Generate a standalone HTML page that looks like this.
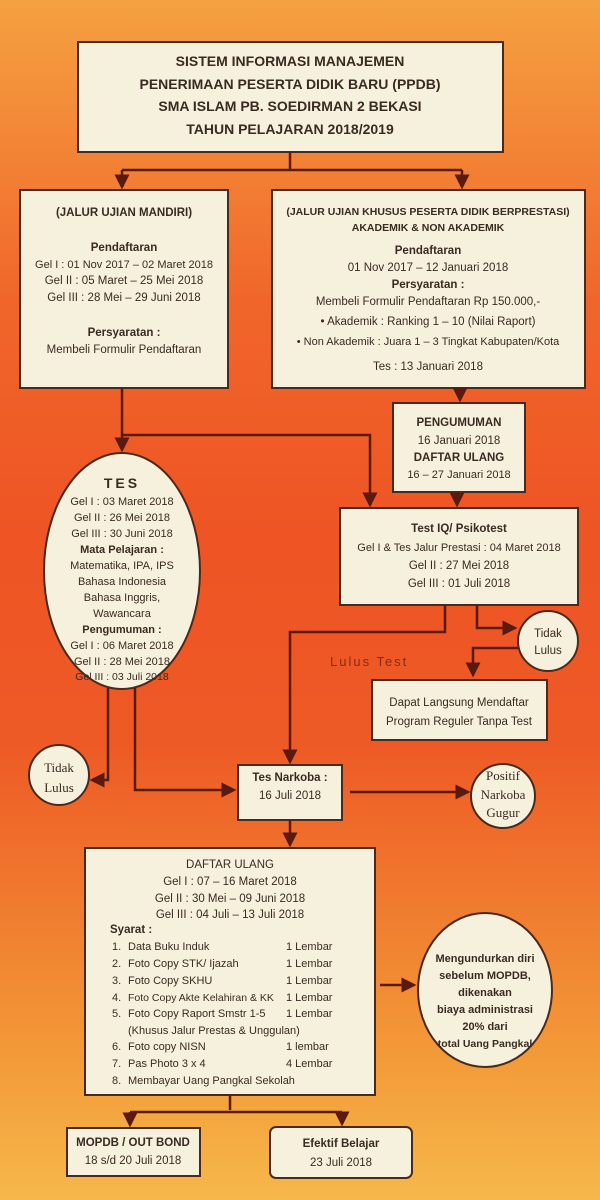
<!DOCTYPE html>
<html><head><meta charset="utf-8"><style>
html,body{margin:0;padding:0;width:600px;height:1200px;overflow:hidden}
body{background:linear-gradient(180deg,#f4a140 0%,#f38a38 10%,#f0662a 25%,#ee5424 45%,#ee5a26 62%,#f07a2e 75%,#f39a38 88%,#f6b84a 100%)}
svg{position:absolute;left:0;top:0}
text{font-family:"Liberation Sans Narrow","Liberation Sans",sans-serif;font-size:11.5px;fill:#3a2a22}
.b{font-weight:bold}
.m{font-size:11px}
.s{font-family:"Liberation Serif",serif;font-size:13px}
</style></head><body>
<svg width="600" height="1200" viewBox="0 0 600 1200">
<defs><marker id="a" markerWidth="6" markerHeight="6" refX="5" refY="3" orient="auto"><path d="M0,0 L6,3 L0,6z" fill="#5a1a10"/></marker></defs>
<g fill="#f6f1dc" stroke="#4a2a1e" stroke-width="2">
<rect x="78" y="42" width="425" height="110"/>
<rect x="20" y="190" width="208" height="198"/>
<rect x="272" y="190" width="313" height="198"/>
<rect x="393" y="403" width="132" height="89"/>
<rect x="340" y="508" width="238" height="97"/>
<ellipse cx="122" cy="571" rx="78" ry="118"/>
<circle cx="548" cy="641" r="30"/>
<rect x="372" y="680" width="175" height="60"/>
<circle cx="59" cy="775" r="30"/>
<rect x="238" y="765" width="104" height="55"/>
<circle cx="503" cy="796" r="32"/>
<rect x="85" y="848" width="290" height="247"/>
<ellipse cx="485" cy="990" rx="67" ry="77"/>
<rect x="67" y="1128" width="133" height="48"/>
<rect x="270" y="1127" width="142" height="51" rx="6"/>
</g>
<g fill="none" stroke="#5a1a10" stroke-width="2.5">
<path d="M290 152V170M122 170H462"/>
<path d="M122 170V187" marker-end="url(#a)"/><path d="M462 170V187" marker-end="url(#a)"/>
<path d="M122 388V450" marker-end="url(#a)"/>
<path d="M122 435H370V505" marker-end="url(#a)"/>
<path d="M460 388V400" marker-end="url(#a)"/>
<path d="M457 492V505" marker-end="url(#a)"/>
<path d="M445 605V632H290V762" marker-end="url(#a)"/>
<path d="M477 605V628H515" marker-end="url(#a)"/>
<path d="M518 648H473V675" marker-end="url(#a)"/>
<path d="M108 688V780H92" marker-end="url(#a)"/>
<path d="M135 688V790H234" marker-end="url(#a)"/>
<path d="M350 792H468" marker-end="url(#a)"/>
<path d="M290 820V845" marker-end="url(#a)"/>
<path d="M380 985H414" marker-end="url(#a)"/>
<path d="M230 1095V1110M130 1112H342"/>
<path d="M130 1112V1125" marker-end="url(#a)"/><path d="M342 1112V1124" marker-end="url(#a)"/>
</g>
<g text-anchor="middle">
<text class="b" x="290" y="66" style="font-size:14px">SISTEM INFORMASI MANAJEMEN</text>
<text class="b" x="290" y="89" style="font-size:14px">PENERIMAAN PESERTA DIDIK BARU (PPDB)</text>
<text class="b" x="290" y="111" style="font-size:14px">SMA ISLAM PB. SOEDIRMAN 2 BEKASI</text>
<text class="b" x="290" y="134" style="font-size:14px">TAHUN PELAJARAN 2018/2019</text>
<text class="b" x="124" y="216">(JALUR UJIAN MANDIRI)</text>
<text class="b" x="124" y="251">Pendaftaran</text>
<text x="124" y="268" class="m">Gel I : 01 Nov 2017 – 02 Maret 2018</text>
<text x="124" y="284">Gel II : 05 Maret – 25 Mei 2018</text>
<text x="124" y="301">Gel III : 28 Mei – 29 Juni 2018</text>
<text class="b" x="124" y="336">Persyaratan :</text>
<text x="124" y="353">Membeli Formulir Pendaftaran</text>
<text class="b" x="428" y="215" style="font-size:10.5px">(JALUR UJIAN KHUSUS PESERTA DIDIK BERPRESTASI)</text>
<text class="b" x="428" y="231" style="font-size:10.5px">AKADEMIK &amp; NON AKADEMIK</text>
<text class="b" x="428" y="254">Pendaftaran</text>
<text x="428" y="271">01 Nov 2017 – 12 Januari 2018</text>
<text class="b" x="428" y="288">Persyaratan :</text>
<text x="428" y="305">Membeli Formulir Pendaftaran Rp 150.000,-</text>
<text x="428" y="325">• Akademik : Ranking 1 – 10 (Nilai Raport)</text>
<text x="428" y="345" class="m">• Non Akademik : Juara 1 – 3 Tingkat Kabupaten/Kota</text>
<text x="428" y="370">Tes : 13 Januari 2018</text>
<text class="b" x="459" y="426">PENGUMUMAN</text>
<text x="459" y="444">16 Januari 2018</text>
<text class="b" x="459" y="461">DAFTAR ULANG</text>
<text x="459" y="478" class="m">16 – 27 Januari 2018</text>
<text class="b" x="459" y="532">Test IQ/ Psikotest</text>
<text x="459" y="551" class="m">Gel I &amp; Tes Jalur Prestasi : 04 Maret 2018</text>
<text x="459" y="569">Gel II  : 27 Mei 2018</text>
<text x="459" y="587">Gel III : 01 Juli 2018</text>
<text class="b" x="122" y="488" style="font-size:14px;letter-spacing:3px">TES</text>
<g class="m">
<text x="122" y="505" class="m">Gel I : 03 Maret 2018</text>
<text x="122" y="521" class="m">Gel II : 26 Mei  2018</text>
<text x="122" y="537" class="m">Gel III : 30 Juni 2018</text>
<text class="b m" x="122" y="553">Mata Pelajaran :</text>
<text x="122" y="569" class="m">Matematika, IPA, IPS</text>
<text x="122" y="585" class="m">Bahasa Indonesia</text>
<text x="122" y="601" class="m">Bahasa Inggris,</text>
<text x="122" y="617" class="m">Wawancara</text>
<text class="b m" x="122" y="633">Pengumuman :</text>
<text x="122" y="649" class="m">Gel I : 06 Maret 2018</text>
<text x="122" y="665" class="m">Gel II : 28 Mei 2018</text>
<text x="122" y="680" style="font-size:10.5px">Gel III : 03 Juli 2018</text>
</g>
<text x="548" y="637">Tidak</text>
<text x="548" y="654">Lulus</text>
<text x="459" y="706">Dapat Langsung Mendaftar</text>
<text x="459" y="725">Program Reguler Tanpa Test</text>
<text class="s" x="59" y="772">Tidak</text>
<text class="s" x="59" y="792">Lulus</text>
<text class="b" x="290" y="781">Tes Narkoba :</text>
<text x="290" y="799">16 Juli 2018</text>
<text class="s" x="503" y="780">Positif</text>
<text class="s" x="503" y="799">Narkoba</text>
<text class="s" x="503" y="817">Gugur</text>
<text x="230" y="868">DAFTAR ULANG</text>
<text x="230" y="885">Gel I : 07 – 16 Maret 2018</text>
<text x="230" y="902">Gel II : 30 Mei – 09 Juni 2018</text>
<text x="230" y="918">Gel III : 04 Juli – 13 Juli 2018</text>
<text class="b m" x="485" y="962">Mengundurkan diri</text>
<text class="b m" x="485" y="979">sebelum MOPDB,</text>
<text class="b m" x="485" y="996">dikenakan</text>
<text class="b m" x="485" y="1013">biaya administrasi</text>
<text class="b m" x="485" y="1030">20% dari</text>
<text class="b" x="485" y="1047" style="font-size:10.5px">total Uang Pangkal</text>
<text class="b" x="133" y="1146">MOPDB / OUT BOND</text>
<text x="133" y="1164">18 s/d 20 Juli 2018</text>
<text class="b" x="341" y="1147">Efektif Belajar</text>
<text x="341" y="1166">23 Juli 2018</text>
</g>
<text x="330" y="666" style="font-size:13px;fill:#8a2a1a;letter-spacing:2px">Lulus Test</text>
<g class="m">
<text class="b" x="110" y="933">Syarat :</text>
<text class="m" x="112" y="950">1.</text><text class="m" x="128" y="950">Data Buku Induk</text><text class="m" x="286" y="950">1 Lembar</text>
<text class="m" x="112" y="967">2.</text><text class="m" x="128" y="967">Foto Copy STK/ Ijazah</text><text class="m" x="286" y="967">1 Lembar</text>
<text class="m" x="112" y="984">3.</text><text class="m" x="128" y="984">Foto Copy SKHU</text><text class="m" x="286" y="984">1 Lembar</text>
<text class="m" x="112" y="1001">4.</text><text x="128" y="1001" style="font-size:10.5px">Foto Copy Akte Kelahiran &amp; KK</text><text class="m" x="286" y="1001">1 Lembar</text>
<text class="m" x="112" y="1017">5.</text><text class="m" x="128" y="1017">Foto Copy Raport Smstr 1-5</text><text class="m" x="286" y="1017">1 Lembar</text>
<text class="m" x="128" y="1034">(Khusus Jalur Prestas &amp; Unggulan)</text>
<text class="m" x="112" y="1050">6.</text><text class="m" x="128" y="1050">Foto copy NISN</text><text class="m" x="286" y="1050">1 lembar</text>
<text class="m" x="112" y="1067">7.</text><text class="m" x="128" y="1067">Pas Photo 3 x 4</text><text class="m" x="286" y="1067">4 Lembar</text>
<text class="m" x="112" y="1084">8.</text><text class="m" x="128" y="1084">Membayar Uang Pangkal Sekolah</text>
</g>
</svg>
</body></html>
